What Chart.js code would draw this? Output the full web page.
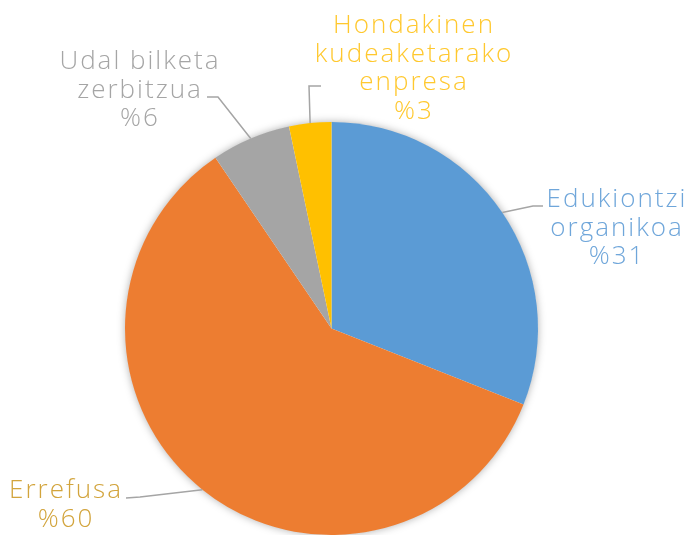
<!DOCTYPE html>
<html lang="eu">
<head>
  <meta charset="UTF-8" />
  <title>Hondakinak</title>
  <script src="https://cdn.jsdelivr.net/npm/chart.js"></script>
  <style>
    html, body { margin: 0; padding: 0; background: #fff; }
    #wrap { width: 692px; height: 535px; position: relative; }
  </style>
</head>
<body>
  <div id="wrap"><canvas id="pie"></canvas></div>
<script>
    // data
    const categories = [
      ['Edukiontzi', 'organikoa'],
      ['Errefusa'],
      ['Udal bilketa', 'zerbitzua'],
      ['Hondakinen', 'kudeaketarako', 'enpresa']
    ];
    const values = [31, 59.5, 6.2, 3.3];

    const sliceColors = ['#5B9BD5', '#ED7D31', '#A5A5A5', '#FFC000'];
    const labelColors = ['#6FA6DA', '#D2A43C', '#A5A5A5', '#FFC82E'];

    // where each label sits: text centre x, first baseline y, leader elbow points
    const labelLayout = [
      { x: 616, y: 207, leader: [[533, 206], [543, 206]] },
      { x: 65, y: 498, leader: [[140, 497], [126, 498]] },
      { x: 139, y: 69, leader: [[218, 97], [207, 97]] },
      { x: 413, y: 33, leader: [[309, 86], [321, 86]] }
    ];

    const shadowPlugin = {
      id: 'pieShadow',
      beforeDatasetsDraw(chart) {
        const arc = chart.getDatasetMeta(0).data[0];
        if (!arc) return;
        const ctx = chart.ctx;
        ctx.save();
        ctx.shadowColor = 'rgba(0,0,0,0.35)';
        ctx.shadowBlur = 9;
        ctx.fillStyle = '#ffffff';
        ctx.beginPath();
        ctx.arc(arc.x, arc.y, arc.outerRadius - 0.5, 0, Math.PI * 2);
        ctx.fill();
        ctx.restore();
      }
    };

    const labelPlugin = {
      id: 'sliceLabels',
      afterDatasetsDraw(chart) {
        const ctx = chart.ctx;
        const meta = chart.getDatasetMeta(0);
        const total = values.reduce((a, b) => a + b, 0);
        ctx.save();
        meta.data.forEach((arc, i) => {
          const mid = (arc.startAngle + arc.endAngle) / 2;
          const px = arc.x + Math.cos(mid) * arc.outerRadius;
          const py = arc.y + Math.sin(mid) * arc.outerRadius;
          const lay = labelLayout[i];

          ctx.strokeStyle = '#A5A5A5';
          ctx.lineWidth = 1.5;
          ctx.beginPath();
          ctx.moveTo(px, py);
          lay.leader.forEach(p => ctx.lineTo(p[0], p[1]));
          ctx.stroke();

          const lines = categories[i].concat(['%' + Math.round(values[i] / total * 100)]);
          ctx.fillStyle = labelColors[i];
          ctx.font = '300 26px "Open Sans", Lato, sans-serif';
          ctx.letterSpacing = '2px';
          ctx.textAlign = 'center';
          ctx.textBaseline = 'alphabetic';
          lines.forEach((t, k) => ctx.fillText(t, lay.x + 1, lay.y + k * 28.7));
        });
        ctx.restore();
      }
    };

    new Chart(document.getElementById('pie'), {
      type: 'pie',
      data: {
        labels: categories.map(c => c.join(' ')),
        datasets: [{
          data: values,
          backgroundColor: sliceColors,
          borderWidth: 0
        }]
      },
      options: {
        responsive: true,
        maintainAspectRatio: false,
        animation: false,
        layout: { padding: { left: 125, right: 154, top: 122, bottom: 0 } },
        plugins: {
          legend: { display: false },
          tooltip: { enabled: false }
        }
      },
      plugins: [shadowPlugin, labelPlugin]
    });
  </script>
</body>
</html>
